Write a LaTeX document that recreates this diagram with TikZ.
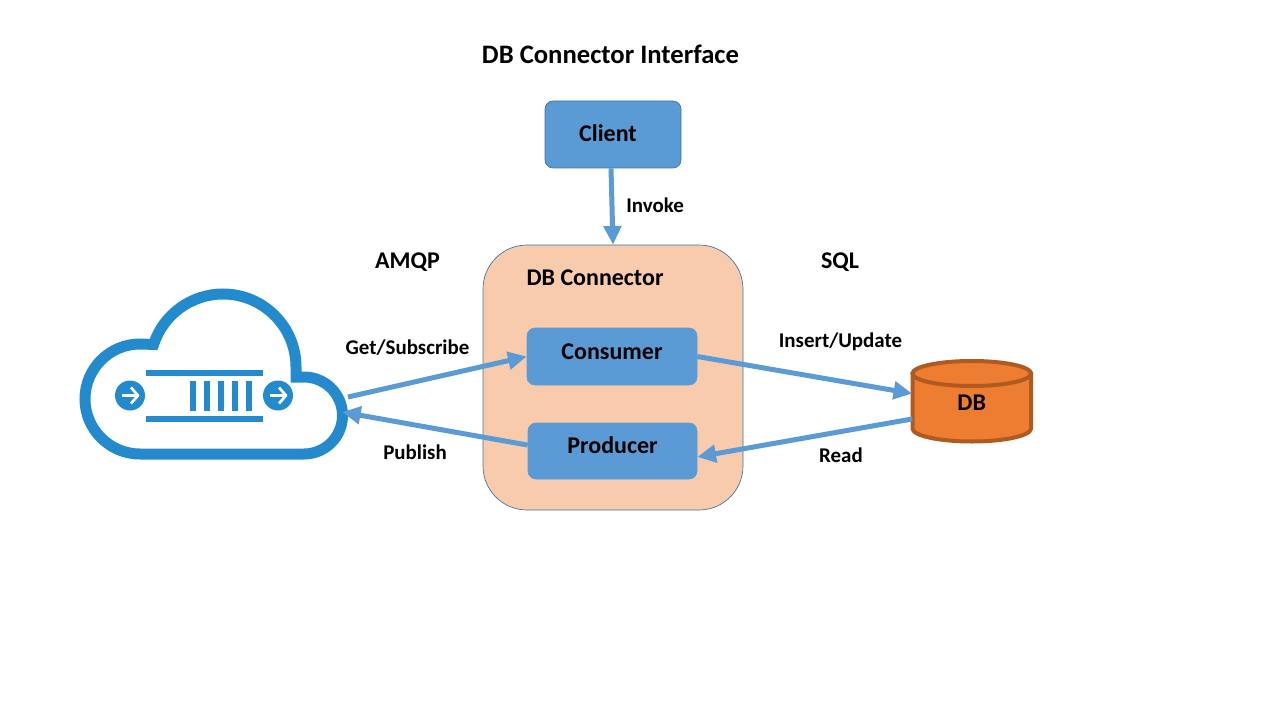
\documentclass[tikz,border=0pt]{standalone}
\usepackage{fontspec}
\setmainfont{Carlito}
\usetikzlibrary{shapes}
\usetikzlibrary{arrows.meta}
\definecolor{box_blue}{HTML}{5B9BD5}
\definecolor{box_edge}{HTML}{41719C}
\definecolor{peach}{HTML}{F8CBAD}
\definecolor{peach_edge}{HTML}{41719C}
\definecolor{db_fill}{HTML}{ED7D31}
\definecolor{db_edge}{HTML}{AE5A21}
\definecolor{cloud_blue}{HTML}{238ACD}
\tikzset{
	text_b/.style = {
		align=center,
		inner sep=0pt,
		text centered,
		font=\bfseries\fontsize{15.7}{19}\selectfont
	},
	text_big/.style = {
		text_b,
		font=\bfseries\fontsize{18}{22}\selectfont
	},
	node_box/.style = {
		rectangle,
		rounded corners=6pt,
		draw=box_edge,
		fill=box_blue,
		line width=0.5pt
	},
	node_inner/.style = {
		node_box,
		draw=box_blue
	},
	node_db/.style = {
		rectangle,
		minimum width=88.9pt,
		minimum height=60.4pt,
		inner sep=0pt
	},
	db_part/.style = {
		draw=db_edge,
		fill=db_fill,
		line width=3pt
	},
	link/.style = {
		-{Triangle[length=14pt,width=13pt]},
		draw=box_blue,
		line width=3.75pt
	},
	cloud_part/.style = {
		draw=cloud_blue,
		line width=8.25pt,
		line join=miter
	},
	circle_arrow/.style = {
		draw=white,
		line width=2pt,
		line join=round
	},
}
\begin{document}
\begin{tikzpicture}[x=0.75pt,y=-0.75pt]
\useasboundingbox (0,0) rectangle (1280,720);
% boxes
\node [node_box, minimum width=102pt, minimum height=50.25pt, label={[text_big,xshift=-3.75pt,yshift=0.75pt]center:Client}] (client) at (613,134.5) {};
\node [node_box, rounded corners=33pt, draw=peach_edge, fill=peach, minimum width=195pt, minimum height=198.75pt] (connector) at (613,377.5) {};
\node [node_inner, minimum width=127.5pt, minimum height=42.75pt, label={[text_big,yshift=3.75pt]center:Consumer}] (consumer) at (612,356.5) {};
\node [node_inner, minimum width=126.75pt, minimum height=42pt, label={[text_big,yshift=4.5pt]center:Producer}] (producer) at (612.5,451) {};
% db
\draw [db_part] (912.5,373.5) -- (912.5,428.5) arc[start angle=180, end angle=0, x radius=59.25, y radius=13] -- (1031,373.5) -- cycle;
\draw [db_part] (971.75,373.5) ellipse [x radius=59.25, y radius=12.5];
\node [node_db, text_big, minimum width=88.9pt, minimum height=60.4pt] (db) at (971.75,403) {DB};
% cloud
\draw [cloud_part] (296,377) -- (296,367) arc[start angle=0, end angle=-162, radius=73] -- (140,344) arc[start angle=-90, end angle=-270, radius=55] -- (304,454) arc[start angle=90, end angle=-90, radius=38.5] -- cycle;
\fill [cloud_blue] (146,370) rectangle (263,376);
\fill [cloud_blue] (146,416) rectangle (263,422);
\foreach \x in {190,204,218,232,246} {
	\fill [cloud_blue] (\x,381) rectangle (\x+5.5,411);
}
\foreach \x in {130,278} {
	\fill [cloud_blue] (\x,395.5) circle [radius=11.25pt];
	\draw [circle_arrow] (\x-8,395.5) -- (\x+8,395.5);
	\draw [circle_arrow] (\x+1,387.5) -- (\x+8,395.5) -- (\x+1,403.5);
}
\coordinate (cloud_out) at (348,397);
\coordinate (cloud_in) at (342,412);
% links
\draw [link] (client.south) ++(-2,0) -- (connector.north);
\draw [link] (cloud_out) -- (consumer.west);
\draw [link] (producer.176) -- (cloud_in);
\draw [link] (consumer.east) -- (db.171);
\draw [link] (db.195) -- (producer.-4);
% labels
\node [text_b, font=\bfseries\fontsize{20}{24}\selectfont] (title) at (610.5,54) {DB Connector Interface};
\node [text_b] (invoke) at (655,205) {Invoke};
\node [text_big] (amqp) at (407.5,262) {AMQP};
\node [text_big] (sql) at (840,262) {SQL};
\node [text_big] (connector_name) at (595,278) {DB Connector};
\node [text_b] (get) at (407.5,348) {Get/Subscribe};
\node [text_b] (publish) at (415,452) {Publish};
\node [text_b] (insert) at (840.5,342) {Insert/Update};
\node [text_b] (read) at (841,455) {Read};
\end{tikzpicture}
\end{document}
